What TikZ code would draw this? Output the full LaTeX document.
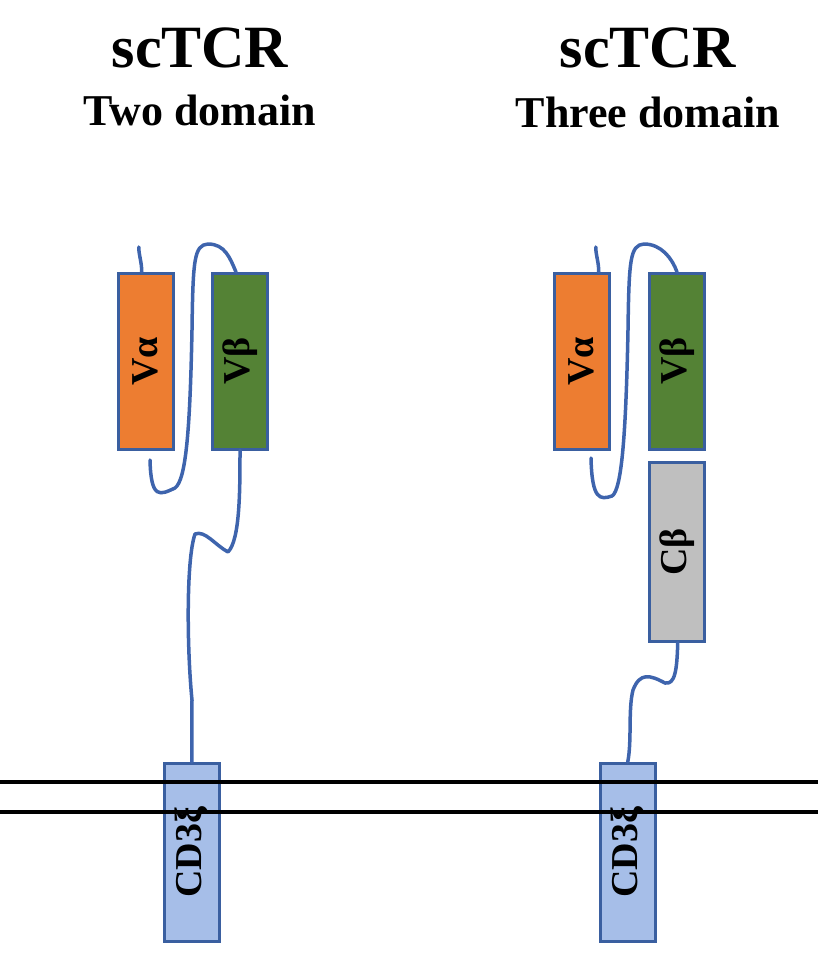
\documentclass[tikz,border=0pt]{standalone}
\usepackage{fontspec}
\setmainfont{Liberation Serif}
\begin{document}
\begin{tikzpicture}[x=1pt,y=-1pt,
 dom/.style={draw=boxblue,line width=2.5pt,minimum width=55pt,anchor=north west,inner sep=0pt},
 lab/.style={rotate=90,font=\fontsize{38}{38}\selectfont\bfseries},
 link/.style={draw=linkblue,line width=3.5pt,line cap=round,line join=round}]
\definecolor{boxblue}{HTML}{3A5FA0}
\definecolor{linkblue}{HTML}{3E64AD}
\definecolor{orng}{HTML}{ED7D31}
\definecolor{grn}{HTML}{548235}
\definecolor{gry}{HTML}{BFBFBF}
\definecolor{cdb}{HTML}{A6BEE8}
\useasboundingbox (0,0) rectangle (818,969);
\node[font=\fontsize{60}{60}\selectfont\bfseries] (t1) at (200,48) {scTCR};
\node[font=\fontsize{44}{44}\selectfont\bfseries] (s1) at (200,110) {Two domain};
\node[font=\fontsize{60}{60}\selectfont\bfseries] (t2) at (648,48) {scTCR};
\node[font=\fontsize{44}{44}\selectfont\bfseries] (s2) at (648,112) {Three domain};
% left
\node[dom,fill=orng,minimum height=176pt] (va1) at (117,272) {};
\node[lab] at (va1.center) {Vα};
\node[dom,fill=grn,minimum height=176pt] (vb1) at (211,272) {};
\node[lab] at (vb1.center) {Vβ};
\node[dom,fill=cdb,minimum height=178pt] (cd1) at (163,762) {};
% membrane
\coordinate (m1a) at (0,782); \coordinate (m1b) at (818,782);
\coordinate (m2a) at (0,812); \coordinate (m2b) at (818,812);
% right
\node[dom,fill=orng,minimum height=176pt] (va2) at (553,272) {};
\node[lab] at (va2.center) {Vα};
\node[dom,fill=grn,minimum height=176pt] (vb2) at (648,272) {};
\node[lab] at (vb2.center) {Vβ};
\node[dom,fill=gry,minimum height=179pt] (cb2) at (648,461) {};
\node[lab] at (cb2.center) {Cβ};
\node[dom,fill=cdb,minimum height=178pt] (cd2) at (599,762) {};
\draw[line width=3.5pt] (m1a) -- (m1b) (m2a) -- (m2b);
\node[lab] at (cd1.center) {CD3ξ};
\node[lab] at (cd2.center) {CD3ξ};
% linkers left
\draw[link] (va1.north)++(-4,0) .. controls +(0,-10) and +(0,8) .. ++(-3,-25);
\draw[link] (150,460) .. controls (151,500) and (160,495) .. (175,488)
  .. controls (186,480) and (190,430) .. (192,330) .. controls (193,260) and (194,245) .. (208,244)
  .. controls (225,244) and (230,258) .. (236,272);
\draw[link] (240,450) .. controls (240,490) and (240,540) .. (228,552)
  .. controls (215,545) and (205,530) .. (195,534) .. controls (186,560) and (187,650) .. (192,700) -- (cd1.north);
% linkers right
\draw[link] (va2.north)++(17,0) .. controls +(0,-10) and +(0,8) .. ++(-3,-25);
\draw[link] (591,458) .. controls (592,500) and (600,500) .. (612,496)
  .. controls (622,490) and (626,430) .. (628,330) .. controls (629,260) and (630,245) .. (644,244)
  .. controls (661,244) and (672,258) .. (677,272);
\draw[link] (cb2.south)++(1,0) .. controls (677,670) and (675,685) .. (665,683)
  .. controls (650,675) and (640,672) .. (633,690) .. controls (628,710) and (632,740) .. (cd2.north);
\end{tikzpicture}
\end{document}
